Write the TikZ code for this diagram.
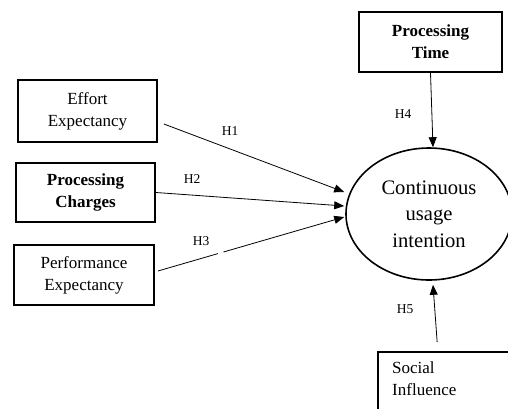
\documentclass[tikz,border=0pt]{standalone}
\usepackage{fontspec}
\setmainfont{Liberation Serif}
\usetikzlibrary{arrows.meta,shapes.geometric}
\begin{document}
\begin{tikzpicture}[x=1pt,y=-1pt,
  box/.style={draw,line width=1.8pt,rectangle,inner sep=0pt,align=center,
    font=\fontsize{17}{22}\selectfont},
  lab/.style={font=\fontsize{13.5}{16}\selectfont,inner sep=0pt},
  arr/.style={-{Triangle[length=10pt,width=8pt]},line width=0.8pt}]
\clip (0,0) rectangle (508,408);
% boxes
\node[box,minimum width=139pt,minimum height=62pt] (ee) at (87.5,111) {Effort\\Expectancy};
\node[box,minimum width=139pt,minimum height=59pt] (pc) at (85.5,192.5) {\textbf{Processing}\\\textbf{Charges}};
\node[box,minimum width=140pt,minimum height=60pt] (pe) at (84,275) {Performance\\Expectancy};
\node[box,minimum width=143pt,minimum height=60pt] (pt) at (430.5,42) {\textbf{Processing}\\\textbf{Time}};
\node[draw,line width=1.8pt,rectangle,inner sep=0pt,anchor=north west,
  minimum width=130.5pt,minimum height=90pt] (si) at (377,351) {};
\node[anchor=north west,inner sep=0pt,align=left,font=\fontsize{17}{22}\selectfont]
  (sitext) at (392,361.5) {Social\\Influence};
% ellipse
\node[draw,ellipse,line width=1.6pt,inner sep=0pt,minimum width=166pt,minimum height=132pt,
  align=center,font=\fontsize{20.6}{26.5}\selectfont] (ci) at (429,214) {Continuous\\usage\\intention};
% connector end points
\coordinate (a1s) at ([xshift=6pt,yshift=-13pt]ee.east);
\coordinate (a1e) at ([xshift=-1pt,yshift=22pt]ci.west);
\coordinate (a2e) at ([xshift=-1pt,yshift=8pt]ci.west);
\coordinate (a3s) at ([xshift=3pt,yshift=4pt]pe.east);
\coordinate (a3e) at ([xshift=-1pt,yshift=-3pt]ci.west);
\coordinate (a4e) at ([xshift=4pt]ci.north);
\coordinate (a5s) at ([xshift=-6pt,yshift=9pt]si.north);
\coordinate (a5e) at ([xshift=4pt,yshift=-4pt]ci.south);
% connectors
\draw[arr] (a1s) -- (a1e);
\draw[arr] (pc.east) -- (a2e);
\draw[arr] (a3s) -- (a3e);
\draw[arr] (pt.south) -- (a4e);
\draw[arr] (a5s) -- (a5e);
% small gap in H3 line
\fill[white] (220.8,252.9) circle (3);
% labels
\node[lab] (h1) at (230,131) {H1};
\node[lab] (h2) at (192,179) {H2};
\node[lab] (h3) at (201,241) {H3};
\node[lab] (h4) at (403,114) {H4};
\node[lab] (h5) at (405,309) {H5};
\end{tikzpicture}
\end{document}
